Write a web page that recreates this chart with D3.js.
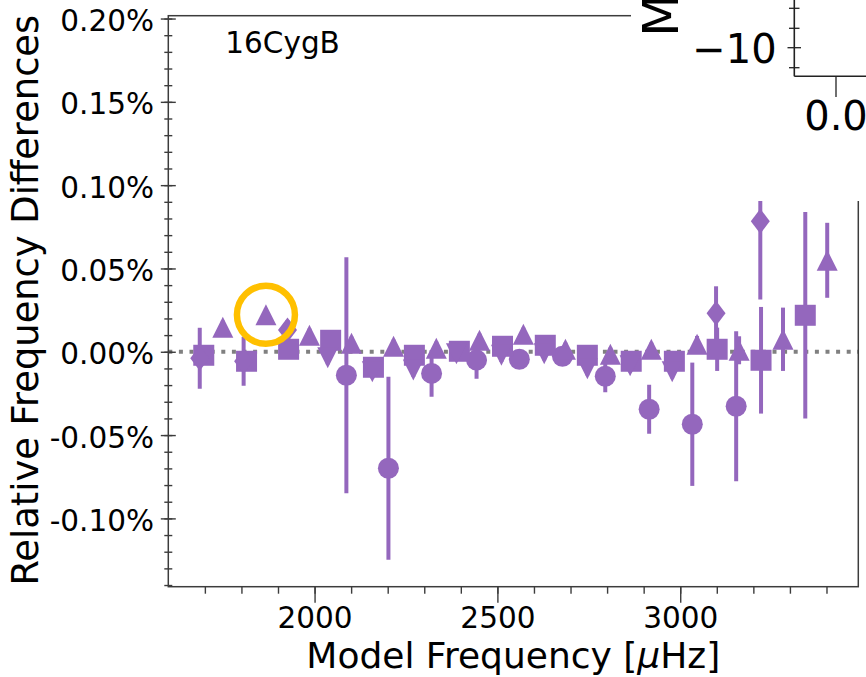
<!DOCTYPE html>
<html>
<head>
<meta charset="utf-8">
<script src="https://cdn.jsdelivr.net/npm/d3@7"></script>
<style>
  body { margin: 0; background: #fff; }
  svg { display: block; }
  text { font-family: "DejaVu Sans"; }
</style>
</head>
<body>
<svg id="chart" width="866" height="677"></svg>
<script>
// model frequency (uHz) and relative difference (%) per marker type
var circleFreq = [2087, 2202, 2320, 2443, 2560, 2678, 2795, 2915, 3033, 3153],
    circleDiff = [-0.0141, -0.0699, -0.0130, -0.0050, -0.0045, -0.0027, -0.0147, -0.0345, -0.0435, -0.0327],
    circleErr  = [0.0708, 0.0549, 0.0140, 0.0112, 0.0050, 0.0050, 0.0096, 0.0147, 0.0370, 0.0450];

var squareFreq = [1697, 1814, 1929, 2044, 2161, 2273, 2396, 2514, 2631, 2746, 2866, 2984, 3101, 3221, 3342],
    squareDiff = [-0.0021, -0.0057, 0.0015, 0.0069, -0.0093, -0.0021, 0.0003, 0.0033, 0.0039, -0.0021, -0.0057, -0.0057, 0.0015, -0.0051, 0.0219],
    squareErr  = [0.004, 0.004, 0.004, 0.004, 0.005, 0.004, 0.004, 0.004, 0.004, 0.004, 0.005, 0.005, 0.013, 0.032, 0.062];

var triUpFreq = [1749, 1867, 1986, 2101, 2216, 2333, 2451, 2571, 2686, 2809, 2921, 3046, 3161, 3281, 3402],
    triUpDiff = [0.0147, 0.0222, 0.0099, 0.0051, 0.0033, 0.0021, 0.0069, 0.0105, 0.0015, -0.0015, 0.0015, 0.0045, 0.0009, 0.0075, 0.0549],
    triUpErr  = [0.004, 0.004, 0.004, 0.004, 0.004, 0.004, 0.004, 0.004, 0.004, 0.004, 0.004, 0.005, 0.0084, 0.019, 0.0225];

var triDownFreq = [2036, 2158, 2270, 2388, 2511, 2628, 2746, 2863, 2978],
    triDownDiff = [-0.0036, -0.0120, -0.0110, -0.0012, -0.0021, -0.0012, -0.0102, -0.0084, -0.0120],
    triDownErr  = [0.004, 0.004, 0.004, 0.004, 0.004, 0.004, 0.004, 0.004, 0.004];

var diamondFreq = [1686, 1806, 1926, 3098, 3219],
    diamondDiff = [-0.0039, -0.0057, 0.0130, 0.0231, 0.0783],
    diamondErr  = [0.0183, 0.0147, 0.006, 0.0162, 0.047];

var xTicks = [2000, 2500, 3000],
    xTickLabels = ["2000", "2500", "3000"],
    yTicks = [-0.10, -0.05, 0.00, 0.05, 0.10, 0.15, 0.20],
    yTickLabels = ["-0.10%", "-0.05%", "0.00%", "0.05%", "0.10%", "0.15%", "0.20%"],
    starName = "16CygB",
    insetYTickLabel = "\u221210",
    insetXTickLabel = "0.0";

var purple = "#9467bd";

var svg = d3.select("#chart"),
    margin = {top: 15.7, right: 7.7, bottom: 90.3, left: 168.3},
    width = 866 - margin.left - margin.right,
    height = 677 - margin.top - margin.bottom,
    g = svg.append("g").attr("transform", "translate(" + margin.left + "," + margin.top + ")");

var x = d3.scaleLinear().domain([1600, 3487]).range([0, width]);
var y = d3.scaleLinear().domain([-0.141, 0.2017]).range([height, 0]);

// zero reference line
g.append("line")
    .attr("x1", 0).attr("x2", width)
    .attr("y1", y(0)).attr("y2", y(0))
    .attr("stroke", "#808080")
    .attr("stroke-width", 4)
    .attr("stroke-dasharray", "4,6.6");

var shapes = {
  circle: function(s) { s.append("circle").attr("r", 10.5); },
  square: function(s) { s.append("rect").attr("x", -10.5).attr("y", -10.5).attr("width", 21).attr("height", 21); },
  triUp: function(s) { s.append("path").attr("d", "M0,-10.5L10.5,10.5L-10.5,10.5Z"); },
  triDown: function(s) { s.append("path").attr("d", "M0,10.5L10.5,-10.5L-10.5,-10.5Z"); },
  diamond: function(s) { s.append("path").attr("d", "M0,-12.5L9.5,0L0,12.5L-9.5,0Z"); }
};

var series = [
  {freq: circleFreq, diff: circleDiff, err: circleErr, shape: "circle"},
  {freq: squareFreq, diff: squareDiff, err: squareErr, shape: "square"},
  {freq: triUpFreq, diff: triUpDiff, err: triUpErr, shape: "triUp"},
  {freq: triDownFreq, diff: triDownDiff, err: triDownErr, shape: "triDown"},
  {freq: diamondFreq, diff: diamondDiff, err: diamondErr, shape: "diamond"}
];

series.forEach(function(sr) {
  var pts = sr.freq.map(function(f, i) { return {f: f, d: sr.diff[i], e: sr.err[i]}; });
  var sg = g.append("g");
  sg.selectAll("line")
    .data(pts)
    .enter().append("line")
      .attr("x1", function(p) { return x(p.f); })
      .attr("x2", function(p) { return x(p.f); })
      .attr("y1", function(p) { return y(p.d + p.e); })
      .attr("y2", function(p) { return y(p.d - p.e); })
      .attr("stroke", purple)
      .attr("stroke-width", 4);
  sg.selectAll("g.mk")
    .data(pts)
    .enter().append("g")
      .attr("class", "mk")
      .attr("fill", purple)
      .attr("transform", function(p) { return "translate(" + x(p.f) + "," + y(p.d) + ")"; })
      .each(function() { shapes[sr.shape](d3.select(this)); });
});

// axes
var axisColor = "#3c3c3c";

var gxMinor = g.append("g")
    .attr("transform", "translate(0," + height + ")")
    .call(d3.axisBottom(x).tickValues(d3.range(1700, 3401, 100)).tickSize(7).tickFormat(""));
var gx = g.append("g")
    .attr("transform", "translate(0," + height + ")")
    .call(d3.axisBottom(x).tickValues(xTicks).tickSize(16).tickPadding(4)
      .tickFormat(function(d, i) { return xTickLabels[i]; }));

var gyMinor = g.append("g")
    .call(d3.axisLeft(y).tickValues(d3.range(-14, 21).map(function(v) { return v / 100; })).tickSize(4).tickFormat(""));
gyMinor.selectAll(".tick line").attr("x1", 4).attr("x2", -4);
var gy = g.append("g")
    .call(d3.axisLeft(y).tickValues(yTicks).tickSize(7.5).tickPadding(6.8)
      .tickFormat(function(d, i) { return yTickLabels[i]; }));
gy.selectAll(".tick line").attr("x1", 7.5).attr("x2", -7.5);
gy.selectAll(".tick text").attr("dy", "0.41em");

[gxMinor, gx, gyMinor, gy].forEach(function(a) {
  a.select(".domain").remove();
  a.attr("font-family", "DejaVu Sans").attr("font-size", 29.5);
  a.selectAll(".tick line").attr("stroke", axisColor).attr("stroke-width", 1.4);
  a.selectAll(".tick text").attr("fill", "#000");
});

g.append("rect")
    .attr("width", width).attr("height", height)
    .attr("fill", "none")
    .attr("stroke", axisColor)
    .attr("stroke-width", 1.5);

g.append("text")
    .attr("x", 57).attr("y", 37.5)
    .attr("font-size", 29.5)
    .text(starName);

// highlight ring around the second l-triangle point
g.append("circle")
    .attr("cx", x(triUpFreq[1]))
    .attr("cy", y(triUpDiff[1]))
    .attr("r", 29)
    .attr("fill", "none")
    .attr("stroke", "#ffc000")
    .attr("stroke-width", 6.5);

// axis labels
var xl = svg.append("text")
    .attr("x", margin.left + width / 2).attr("y", 668)
    .attr("text-anchor", "middle")
    .attr("font-size", 36);
xl.append("tspan").text("Model Frequency [");
xl.append("tspan").attr("font-style", "italic").text("\u03bc");
xl.append("tspan").text("Hz]");

svg.append("text")
    .attr("transform", "translate(37.5," + (margin.top + height / 2 - 1) + ") rotate(-90)")
    .attr("text-anchor", "middle")
    .attr("font-size", 36.8)
    .text("Relative Frequency Differences");

// neighbouring panel overlapping the top-right corner
svg.append("rect")
    .attr("x", 631).attr("y", 0)
    .attr("width", 235).attr("height", 201)
    .attr("fill", "#fff");

var inset = svg.append("g").attr("stroke", "#222").attr("stroke-width", 1.6);
inset.append("line").attr("x1", 794.3).attr("x2", 794.3).attr("y1", 0).attr("y2", 76.3);
inset.append("line").attr("x1", 794.3).attr("x2", 866).attr("y1", 76.3).attr("y2", 76.3);
[8.3, 28.3, 67.7].forEach(function(ty) {
  inset.append("line").attr("x1", 789).attr("x2", 799.5).attr("y1", ty).attr("y2", ty).attr("stroke-width", 1.3);
});
inset.append("line").attr("x1", 787.5).attr("x2", 801).attr("y1", 47.7).attr("y2", 47.7).attr("stroke-width", 1.3);
inset.append("line").attr("x1", 836).attr("x2", 836).attr("y1", 76.3).attr("y2", 97).attr("stroke-width", 1.3);

svg.append("text")
    .attr("x", 776.6).attr("y", 62.5)
    .attr("text-anchor", "end")
    .attr("font-size", 40)
    .text(insetYTickLabel);
svg.append("text")
    .attr("x", 836).attr("y", 130)
    .attr("text-anchor", "middle")
    .attr("font-size", 40)
    .text(insetXTickLabel);
svg.append("text")
    .attr("transform", "translate(678,37) rotate(-90)")
    .attr("font-size", 50)
    .text("M");
</script>
</body>
</html>
